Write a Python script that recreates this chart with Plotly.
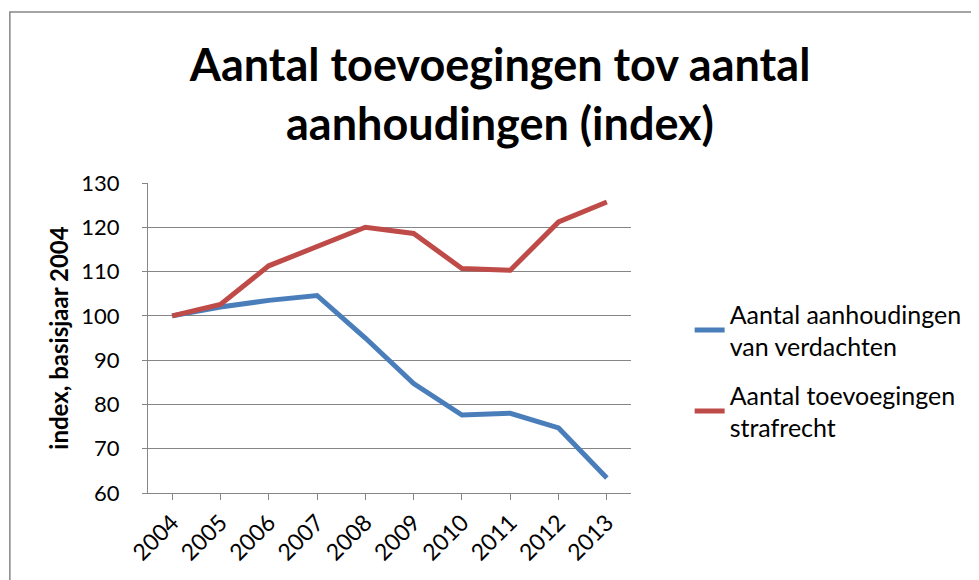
import plotly.graph_objects as go

years = ["2004", "2005", "2006", "2007", "2008", "2009", "2010", "2011", "2012", "2013"]
aanhoudingen = [100, 102.0, 103.5, 104.6, 95.0, 84.7, 77.6, 78.0, 74.7, 63.4]
toevoegingen = [100, 102.6, 111.3, 115.8, 120.0, 118.6, 110.7, 110.3, 121.2, 125.7]
series_names = ["Aantal aanhoudingen<br>van verdachten", "Aantal toevoegingen<br>strafrecht"]
colors = ["#4A7EBB", "#BE4B48"]

# page has an 8px body margin; the figure is sized/offset to compensate
W, H = 971, 572
L, R, T, B = 140, 345, 175, 87
pw, ph = W - L - R, H - T - B

FONT = "Lato"

fig = go.Figure()
for i, (name, vals, col) in enumerate(zip(series_names, [aanhoudingen, toevoegingen], colors)):
    fig.add_trace(go.Scatter(x=years, y=vals, mode="lines", name=name, legendgroup=f"g{i}",
                             line=dict(color=col, width=5)))

def px2paper_x(px):
    return (px - L) / pw

def px2paper_y(py):
    return (H - B - py) / ph

fig.update_layout(
    width=W, height=H,
    margin=dict(l=L, r=R, t=T, b=B),
    paper_bgcolor="white", plot_bgcolor="white",
    font=dict(family=FONT, size=22, color="black"),
    title=dict(text="<b>Aantal toevoegingen tov aantal<br>aanhoudingen (index)</b>",
               font=dict(family=FONT, size=45, color="black"),
               x=492 / W, xanchor="center", xref="container",
               y=1 - 73 / H, yanchor="top", yref="container"),
    xaxis=dict(type="category", range=[-0.5, 9.5], showline=True, linecolor="#868686",
               linewidth=1, ticks="outside", ticklen=6, tickcolor="#868686",
               tickangle=-45, showgrid=False, tickfont=dict(size=23)),
    yaxis=dict(range=[60, 130], dtick=10, showline=True, linecolor="#868686",
               linewidth=1, ticks="outside", ticklen=5, tickcolor="#868686",
               showgrid=True, gridcolor="#868686", gridwidth=1,
               tickfont=dict(size=22), ticklabelstandoff=18,
               title=dict(text="<b>index, basisjaar 2004</b>", font=dict(size=24), standoff=5)),
    legend=dict(x=px2paper_x(685), xanchor="left", y=px2paper_y(283), yanchor="top",
                font=dict(size=25), tracegroupgap=13, bgcolor="rgba(0,0,0,0)"),
    shapes=[dict(type="rect", xref="paper", yref="paper",
                 x0=px2paper_x(1), x1=px2paper_x(W + 20),
                 y0=px2paper_y(H + 20), y1=px2paper_y(4),
                 line=dict(color="#868686", width=1.5), layer="below")],
)

fig.write_html("out.html")
